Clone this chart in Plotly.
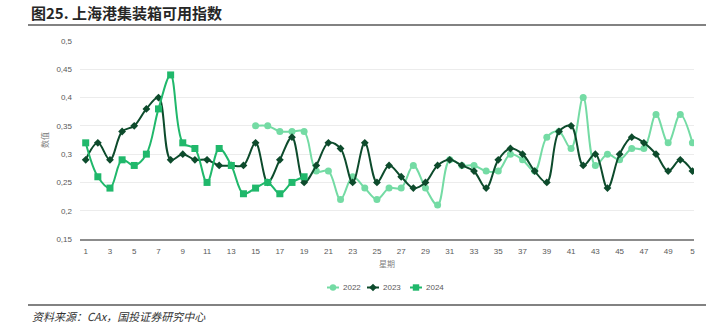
import plotly.graph_objects as go

# Weekly container availability index, Shanghai port
weeks_2022 = list(range(15, 52))
values_2022 = [0.35, 0.35, 0.34, 0.34, 0.34, 0.27, 0.27, 0.22, 0.26, 0.24,
               0.22, 0.24, 0.24, 0.28, 0.24, 0.21, 0.29, 0.28, 0.28, 0.27,
               0.27, 0.30, 0.29, 0.27, 0.33, 0.34, 0.31, 0.40, 0.28, 0.30,
               0.29, 0.31, 0.31, 0.37, 0.32, 0.37, 0.32]

weeks_2023 = list(range(1, 52))
values_2023 = [0.29, 0.32, 0.29, 0.34, 0.35, 0.38, 0.40, 0.29, 0.30, 0.29,
               0.29, 0.28, 0.28, 0.28, 0.32, 0.25, 0.29, 0.33, 0.25, 0.28,
               0.32, 0.31, 0.25, 0.32, 0.25, 0.28, 0.26, 0.24, 0.25, 0.28,
               0.29, 0.28, 0.27, 0.24, 0.29, 0.31, 0.30, 0.27, 0.25, 0.34,
               0.35, 0.28, 0.30, 0.24, 0.30, 0.33, 0.32, 0.30, 0.27, 0.29,
               0.27]

weeks_2024 = list(range(1, 20))
values_2024 = [0.32, 0.26, 0.24, 0.29, 0.28, 0.30, 0.38, 0.44, 0.32, 0.31,
               0.25, 0.31, 0.28, 0.23, 0.24, 0.25, 0.23, 0.25, 0.26]

series_names = ["2022", "2023", "2024"]

y_ticks = [0.15, 0.2, 0.25, 0.3, 0.35, 0.4, 0.45, 0.5]
y_tick_text = ["0,15", "0,2", "0,25", "0,3", "0,35", "0,4", "0,45", "0,5"]
x_ticks = list(range(1, 52, 2))
x_tick_text = [str(w) for w in x_ticks[:-1]] + ["5"]

C2022 = "#74DBA4"
C2023 = "#0D4B2C"
C2024 = "#20B86B"

fig = go.Figure()
fig.add_trace(go.Scatter(
    x=weeks_2022, y=values_2022, name=series_names[0], mode="lines+markers",
    line=dict(color=C2022, width=2, shape="spline", smoothing=1),
    marker=dict(symbol="circle", size=7, color=C2022)))
fig.add_trace(go.Scatter(
    x=weeks_2023, y=values_2023, name=series_names[1], mode="lines+markers",
    line=dict(color=C2023, width=2, shape="spline", smoothing=1),
    marker=dict(symbol="diamond", size=6, color=C2023)))
fig.add_trace(go.Scatter(
    x=weeks_2024, y=values_2024, name=series_names[2], mode="lines+markers",
    line=dict(color=C2024, width=2, shape="spline", smoothing=1),
    marker=dict(symbol="square", size=7, color=C2024)))

L, R, T, B = 80, 22, 41, 94
W, H = 716, 333
PW, PH = W - L - R, H - T - B


def px_x(px):
    return (px - L) / PW


def px_y(py):
    return (H - B - py) / PH


# Compact legend row: short line stub, marker, label
legend_y = 287.5
legend_items = [(series_names[0], C2022, "circle", 333),
                (series_names[1], C2023, "diamond", 373),
                (series_names[2], C2024, "square", 416)]
legend_shapes, legend_notes = [], []
for name, color, sym, cx in legend_items:
    legend_shapes.append(dict(type="line", xref="paper", yref="paper",
                              x0=px_x(cx - 6), x1=px_x(cx + 6), y0=px_y(legend_y), y1=px_y(legend_y),
                              line=dict(color=color, width=2)))
    r = 3.2
    if sym == "circle":
        legend_shapes.append(dict(type="circle", xref="paper", yref="paper",
                                  x0=px_x(cx - r), x1=px_x(cx + r),
                                  y0=px_y(legend_y + r), y1=px_y(legend_y - r),
                                  fillcolor=color, line=dict(width=0)))
    elif sym == "square":
        legend_shapes.append(dict(type="rect", xref="paper", yref="paper",
                                  x0=px_x(cx - r), x1=px_x(cx + r),
                                  y0=px_y(legend_y + r), y1=px_y(legend_y - r),
                                  fillcolor=color, line=dict(width=0)))
    else:
        d = r + 0.6
        path = (f"M {px_x(cx)},{px_y(legend_y - d)} L {px_x(cx + d)},{px_y(legend_y)} "
                f"L {px_x(cx)},{px_y(legend_y + d)} L {px_x(cx - d)},{px_y(legend_y)} Z")
        legend_shapes.append(dict(type="path", xref="paper", yref="paper", path=path,
                                  fillcolor=color, line=dict(width=0)))
    legend_notes.append(dict(text=name, xref="paper", yref="paper",
                             x=px_x(cx + 8), y=px_y(legend_y), xanchor="left", yanchor="middle",
                             showarrow=False, font=dict(size=8, color="#595959")))

fig.update_layout(
    width=W, height=H,
    margin=dict(l=L, r=R, t=T, b=B),
    paper_bgcolor="white", plot_bgcolor="white",
    font=dict(family="Liberation Sans, Arial, Noto Sans CJK SC", size=8, color="#595959"),
    showlegend=False,
    xaxis=dict(range=[0.53, 51.13], tickvals=x_ticks, ticktext=x_tick_text,
               showgrid=False, zeroline=False, showline=True, linecolor="#8c8c8c", linewidth=1.5,
               ticks="", tickfont=dict(size=8, color="#595959"), ticklabelstandoff=4,
               title=dict(text="星期", font=dict(size=8, family="Noto Sans CJK SC", color="#7f7f7f"),
                          standoff=6)),
    yaxis=dict(range=[0.15, 0.5], tickvals=y_ticks, ticktext=y_tick_text,
               showgrid=True, gridcolor="#ececec", gridwidth=1, zeroline=False, showline=False,
               ticks="", tickfont=dict(size=8, color="#595959"), ticklabelstandoff=7,
               title=dict(text="数值", font=dict(size=8, family="Noto Sans CJK SC", color="#7f7f7f"),
                          standoff=6)),
    annotations=[
        dict(text="<b>图25. 上海港集装箱可用指数</b>", xref="paper", yref="paper",
             x=px_x(29), y=px_y(13), xanchor="left", yanchor="middle", showarrow=False,
             font=dict(family="Noto Sans CJK SC", size=15, color="#262626")),
        dict(text="资料来源：CAx，国投证券研究中心", xref="paper", yref="paper",
             x=px_x(30), y=px_y(316), xanchor="left", yanchor="middle", showarrow=False,
             font=dict(family="Noto Sans CJK SC", size=11, color="#333333", style="italic")),
    ] + legend_notes,
    shapes=[
        dict(type="line", xref="paper", yref="paper", x0=px_x(28), x1=px_x(706),
             y0=px_y(25), y1=px_y(25), line=dict(color="#595959", width=1.5)),
        dict(type="line", xref="paper", yref="paper", x0=px_x(28), x1=px_x(706),
             y0=px_y(305), y1=px_y(305), line=dict(color="#595959", width=1.5)),
    ] + legend_shapes,
)

fig.write_html("out.html")
